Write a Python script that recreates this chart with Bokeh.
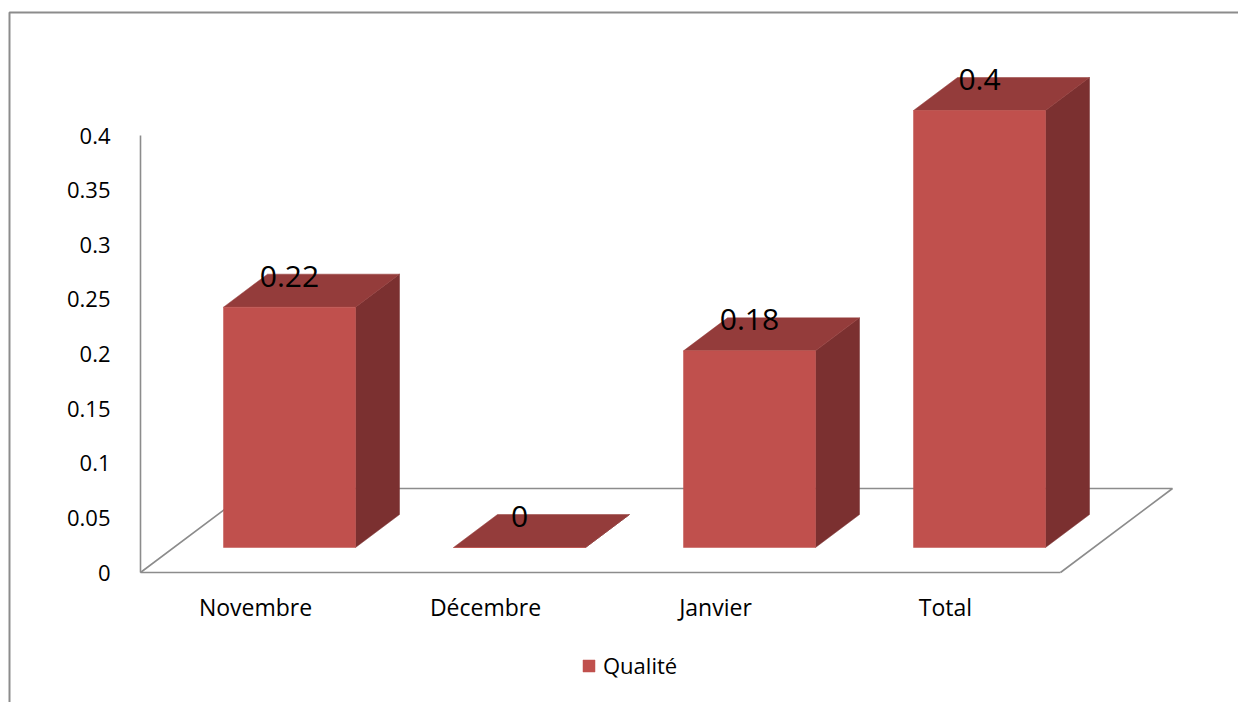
from bokeh.plotting import figure
from bokeh.models import (Range1d, FixedTicker, Legend, LegendItem, BoxAnnotation,
                          ColumnDataSource, LinearAxis)
from bokeh.core.properties import value
from bokeh.embed import file_html
from bokeh.resources import INLINE

# ---- data ----
categories = ["Novembre", "Décembre", "Janvier", "Total"]
qualite = [0.22, 0.0, 0.18, 0.4]
value_labels = ["0.22", "0", "0.18", "0.4"]
y_ticks = [0, 0.05, 0.1, 0.15, 0.2, 0.25, 0.3, 0.35, 0.4]
y_tick_labels = ["0", "0.05", "0.1", "0.15", "0.2", "0.25", "0.3", "0.35", "0.4"]
series_name = "Qualité"

# ---- styling / pseudo-3D geometry (in axis units) ----
FONT = "Open Sans"
FRONT = "#C0504D"
TOP = "#943C3B"
SIDE = "#7B3030"
GRID = "#8C8C8C"
PX_X = 230.0          # pixels per category
PX_Y = 1092.5         # pixels per unit of value
BAR_W = 132 / PX_X    # front face width
SHIFT_X = 34 / PX_X   # bars sit part way into the floor
SHIFT_Y = 25 / PX_Y
DEPTH_X = 44 / PX_X   # bar depth
DEPTH_Y = 33 / PX_Y
FLOOR_X = 112 / PX_X  # full floor depth
FLOOR_Y = 84 / PX_Y
LABEL_LIFT = 31 / PX_Y

n = len(categories)
W, H = 1238, 702
ORIGIN_X, ORIGIN_Y = 140, 572   # canvas position of the value/category origin

p = figure(width=W, height=H, output_backend="svg", toolbar_location=None,
           x_range=Range1d(-ORIGIN_X / PX_X, (W - ORIGIN_X) / PX_X),
           y_range=Range1d(-(H - ORIGIN_Y) / PX_Y, ORIGIN_Y / PX_Y),
           x_axis_location=None, y_axis_location=None,
           min_border=0)
p.grid.visible = False
p.outline_line_color = None
p.background_fill_color = "white"
p.border_fill_color = "white"

# chart area border
p.add_layout(BoxAnnotation(left=9, right=W + 20, top=12, bottom=H + 20,
                           left_units="canvas", right_units="canvas",
                           top_units="canvas", bottom_units="canvas",
                           fill_color=None, fill_alpha=0,
                           line_color=GRID, line_alpha=1.0, line_width=2))

# y axis at the front-left edge of the floor
ya = LinearAxis(fixed_location=0)
ya.ticker = FixedTicker(ticks=y_ticks)
ya.major_label_overrides = {t: s for t, s in zip(y_ticks, y_tick_labels)}
ya.bounds = (0, max(y_ticks))
ya.axis_line_color = GRID
ya.axis_line_width = 1.6
ya.major_tick_line_color = None
ya.minor_tick_line_color = None
ya.major_label_standoff = 24
ya.major_label_text_font = FONT
ya.major_label_text_font_size = "22px"
ya.major_label_text_color = "#000000"
p.add_layout(ya, "left")

# x axis along the front floor edge
centers = [i + 0.5 for i in range(n)]
xa = LinearAxis(fixed_location=0)
xa.ticker = FixedTicker(ticks=centers)
xa.major_label_overrides = {c: s for c, s in zip(centers, categories)}
xa.bounds = (0, n)
xa.axis_line_color = GRID
xa.axis_line_width = 1.6
xa.major_tick_line_color = None
xa.minor_tick_line_color = None
xa.major_label_standoff = 12
xa.major_label_text_font = FONT
xa.major_label_text_font_size = "23px"
xa.major_label_text_color = "#000000"
p.add_layout(xa, "below")

# floor outline (left, back and right edges)
p.multi_line(xs=[[0, FLOOR_X, n + FLOOR_X, n]],
             ys=[[0, FLOOR_Y, FLOOR_Y, 0]],
             line_color=GRID, line_width=1.6)

# bar faces
front_xs, front_ys, top_xs, top_ys, side_xs, side_ys = [], [], [], [], [], []
for i, v in enumerate(qualite):
    x0 = i + 0.5 - BAR_W / 2 + SHIFT_X
    x1 = x0 + BAR_W
    y0 = SHIFT_Y
    y1 = SHIFT_Y + v
    front_xs.append([x0, x1, x1, x0])
    front_ys.append([y0, y0, y1, y1])
    top_xs.append([x0, x1, x1 + DEPTH_X, x0 + DEPTH_X])
    top_ys.append([y1, y1, y1 + DEPTH_Y, y1 + DEPTH_Y])
    side_xs.append([x1, x1 + DEPTH_X, x1 + DEPTH_X, x1])
    side_ys.append([y0, y0 + DEPTH_Y, y1 + DEPTH_Y, y1])

p.patches(side_xs, side_ys, fill_color=SIDE, line_color=SIDE, line_width=0.5)
p.patches(top_xs, top_ys, fill_color=TOP, line_color=TOP, line_width=0.5)
front = p.patches(front_xs, front_ys, fill_color=FRONT, line_color=FRONT,
                  line_width=0.5)

# value labels
lab = ColumnDataSource(dict(
    x=[i + 0.5 + SHIFT_X for i in range(n)],
    y=[SHIFT_Y + v + LABEL_LIFT for v in qualite],
    t=value_labels))
p.text(x="x", y="y", text="t", source=lab, text_align="center",
       text_baseline="middle", text_font=value(FONT), text_font_size="30px",
       text_color="#000000")

# legend
legend = Legend(items=[LegendItem(label=series_name, renderers=[front])],
                location=(581, H - 680), orientation="horizontal",
                glyph_width=15, glyph_height=15, label_standoff=7,
                padding=0, margin=0, border_line_color=None,
                background_fill_color=None,
                label_text_font=FONT, label_text_font_size="22px",
                label_text_color="#000000")
p.add_layout(legend, "center")

open("out.html", "w").write(file_html(p, INLINE))
